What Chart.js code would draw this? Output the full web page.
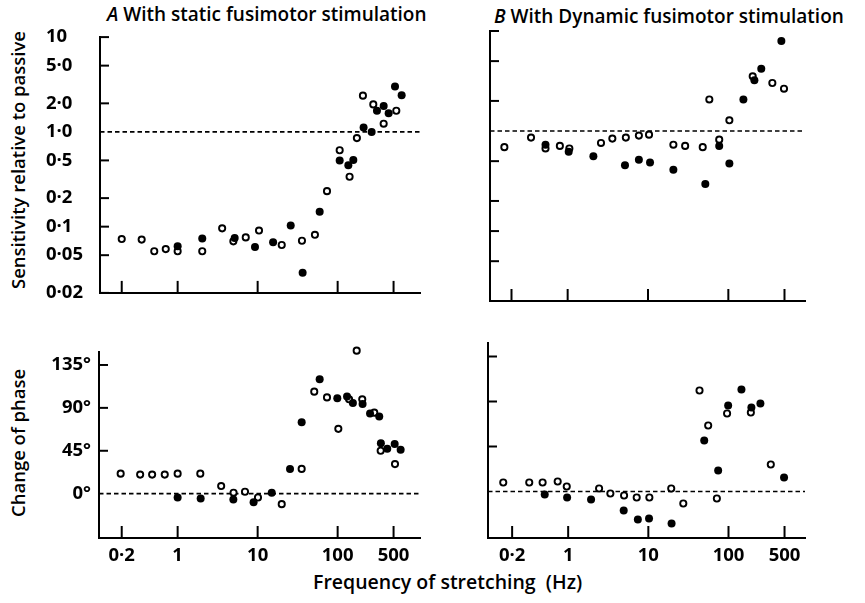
<!DOCTYPE html>
<html>
<head>
<meta charset="utf-8">
<script src="https://cdn.jsdelivr.net/npm/chart.js@4.4.1/dist/chart.umd.min.js"></script>
<style>
body { margin: 0; width: 865px; height: 603px; background: #fff; position: relative; overflow: hidden;
       font-family: "Open Sans", sans-serif; font-weight: 600; color: #000; }
canvas { position: absolute; }
.lbl { position: absolute; font-size: 19px; white-space: nowrap; line-height: 1; }
.rot { transform: translate(-50%, -50%) rotate(-90deg); font-size: 18.5px; }
</style>
</head>
<body>
<div class="lbl" style="left:107px;top:5px"><i>A</i> With static fusimotor stimulation</div>
<div class="lbl" style="left:494px;top:7px"><i>B</i> With Dynamic fusimotor stimulation</div>
<div class="lbl rot" style="left:18px;top:160px">Sensitivity relative to passive</div>
<div class="lbl rot" style="left:18px;top:443px">Change of phase</div>
<div class="lbl" style="left:313px;top:572px;font-size:19.5px">Frequency of stretching&nbsp;&nbsp;(Hz)</div>

<canvas id="tl" width="384" height="294" style="left:46px;top:18px"></canvas>
<canvas id="tr" width="335" height="291" style="left:480px;top:21px"></canvas>
<canvas id="bl" width="391" height="240" style="left:39px;top:333px"></canvas>
<canvas id="br" width="337" height="240" style="left:478px;top:333px"></canvas>

<script>
const freqTicks = [0.2, 1, 10, 100, 500];
const freqLabels = ["0·2", "1", "10", "100", "500"];
const sensTicks = [0.02, 0.05, 0.1, 0.2, 0.5, 1, 2, 5, 10];
const sensLabels = ["0·02", "0·05", "0·1", "0·2", "0·5", "1·0", "2·0", "5·0", "10"];
const phaseTicks = [0, 45, 90, 135];
const phaseLabels = ["0°", "45°", "90°", "135°"];

// [frequency Hz, value]
const staticSensOpen = [[0.2,0.074],[0.355,0.073],[0.51,0.055],[0.71,0.058],[1.0,0.055],[2.03,0.055],[3.6,0.096],[4.97,0.07],[7.1,0.077],[10.4,0.091],[20,0.064],[35.8,0.071],[52,0.082],[73.6,0.237],[106,0.64],[141,0.336],[174,0.86],[207,2.41],[279,1.95],[376,1.22],[541,1.67]];
const staticSensFilled = [[1.0,0.062],[2.03,0.075],[5.16,0.076],[9.26,0.061],[15.6,0.0685],[25.9,0.103],[36.5,0.0326],[59.6,0.144],[106,0.498],[136,0.445],[157,0.506],[211,1.11],[266,1.0],[310,1.67],[376,1.87],[434,1.57],[521,3.02],[631,2.44]];
const dynSensOpen = [[0.163,0.69],[0.35,0.86],[0.53,0.67],[0.8,0.71],[1.05,0.67],[2.6,0.76],[3.6,0.84],[5.3,0.86],[7.7,0.9],[10.3,0.92],[20.7,0.73],[29,0.71],[48,0.69],[58,2.07],[77,0.82],[103,1.28],[201,3.52],[353,3.02],[493,2.65]];
const dynSensFilled = [[0.53,0.73],[1.03,0.62],[2.09,0.56],[5.17,0.454],[7.7,0.517],[10.6,0.486],[20.7,0.41],[51.7,0.295],[77,0.71],[103,0.475],[154,2.07],[211,3.21],[257,4.2],[457,7.94]];
const staticPhaseOpen = [[0.194,21],[0.34,20],[0.48,20],[0.69,20],[1.0,21],[1.92,21],[3.5,8],[5.0,1],[6.95,2],[10.1,-4],[20,-11],[35.5,26],[51,107],[73.6,101],[102,68],[139,99],[173,150],[203,99],[287,85],[345,45],[521,31]];
const staticPhaseFilled = [[1.0,-4],[1.94,-5],[4.97,-6],[8.9,-9],[15,1],[25.4,26],[35.5,75],[59.6,120],[99,100],[131,102],[155,95],[205,94],[254,84],[331,81],[347,53],[417,47],[516,52],[613,46]];
const dynPhaseOpen = [[0.155,9],[0.327,9],[0.48,9],[0.74,10],[0.96,5],[2.43,3],[3.36,-2],[4.98,-4],[7.16,-6],[10.3,-6],[19.3,3],[27.3,-12],[43.5,101],[55.8,66],[71.6,-7],[96,78],[190,79],[337,27]];
const dynPhaseFilled = [[0.51,-3],[0.97,-6],[1.93,-8],[4.93,-19],[7.4,-28],[10.2,-27],[19.5,-32],[49.8,51],[74.3,21],[99,86],[145,102],[193,84],[250,88],[493,14]];

const tickFont = { family: "Open Sans", size: 18.5, weight: "700" };

// dashed reference line and inward tick marks
const decor = {
    id: "decor",
    beforeDatasetsDraw(chart, args, o) {
        const { ctx, chartArea: a, scales: { x, y } } = chart;
        ctx.save();
        ctx.strokeStyle = "#000";
        ctx.lineWidth = 1.6;
        ctx.setLineDash([4.5, 3]);
        const py = y.getPixelForValue(o.ref);
        ctx.beginPath(); ctx.moveTo(a.left, py); ctx.lineTo(a.right, py); ctx.stroke();
        ctx.setLineDash([]);
        ctx.lineWidth = 2;
        x.ticks.forEach(t => {
            const px = x.getPixelForValue(t.value);
            ctx.beginPath(); ctx.moveTo(px, a.bottom); ctx.lineTo(px, a.bottom - 12); ctx.stroke();
        });
        y.ticks.forEach(t => {
            if (t.value === o.ref) return;
            const p = y.getPixelForValue(t.value);
            ctx.beginPath(); ctx.moveTo(a.left, p); ctx.lineTo(a.left + 9, p); ctx.stroke();
        });
        ctx.restore();
    }
};

const toXY = arr => arr.map(p => ({ x: p[0], y: p[1] }));

function panel(id, p) {
    const sens = p.kind === "sens";
    const yVals = sens ? sensTicks : phaseTicks;
    const yLabs = sens ? sensLabels : phaseLabels;
    new Chart(document.getElementById(id), {
        type: "scatter",
        data: {
            datasets: [
                { data: toXY(p.filled), pointRadius: 4, pointBorderWidth: 0,
                  pointBackgroundColor: "#000", clip: false },
                { data: toXY(p.open), pointRadius: 3.1, pointBorderWidth: 1.9,
                  pointBackgroundColor: "#fff", pointBorderColor: "#000", clip: false }
            ]
        },
        options: {
            responsive: false,
            animation: false,
            layout: { padding: { top: 10, right: 10, left: 0, bottom: 0 } },
            plugins: { legend: { display: false }, tooltip: { enabled: false }, decor: { ref: sens ? 1 : 0 } },
            scales: {
                x: {
                    type: "logarithmic", min: p.xMin, max: p.xMax,
                    grid: { display: false, drawTicks: false },
                    border: { color: "#000", width: 2 },
                    afterBuildTicks: s => { s.ticks = freqTicks.map(v => ({ value: v })); },
                    afterFit: s => { s.height = p.xH; },
                    ticks: { display: p.xLabels, padding: 7, color: "#000", font: tickFont,
                             autoSkip: false, maxRotation: 0,
                             callback: v => freqLabels[freqTicks.indexOf(v)] }
                },
                y: {
                    type: sens ? "logarithmic" : "linear", min: p.yMin, max: p.yMax,
                    grid: { display: false, drawTicks: false },
                    border: { color: "#000", width: 2 },
                    afterBuildTicks: s => { s.ticks = yVals.map(v => ({ value: v })); },
                    afterFit: s => { s.width = p.yW; },
                    ticks: { display: p.yLabels, padding: p.yPad || 8, crossAlign: p.yAlign || "near",
                             color: "#000", font: tickFont,
                             callback: v => yLabs[yVals.indexOf(v)] }
                }
            }
        },
        plugins: [decor]
    });
}

panel("tl", { kind: "sens", open: staticSensOpen, filled: staticSensFilled,
    xMin: 0.107, xMax: 1070, yMin: 0.02, yMax: 10, xH: 11, yW: 54, xLabels: false, yLabels: true, yAlign: "far" });
panel("tr", { kind: "sens", open: dynSensOpen, filled: dynSensFilled,
    xMin: 0.108, xMax: 900, yMin: 0.02, yMax: 10, xH: 11, yW: 10, xLabels: false, yLabels: false });
panel("bl", { kind: "phase", open: staticPhaseOpen, filled: staticPhaseFilled,
    xMin: 0.104, xMax: 1070, yMin: -46.5, yMax: 148.5, xH: 35, yW: 60, xLabels: true, yLabels: true, yPad: 8 });
panel("br", { kind: "phase", open: dynPhaseOpen, filled: dynPhaseFilled,
    xMin: 0.1, xMax: 900, yMin: -46.5, yMax: 148.5, xH: 35, yW: 10, xLabels: true, yLabels: false });
</script>
</body>
</html>
